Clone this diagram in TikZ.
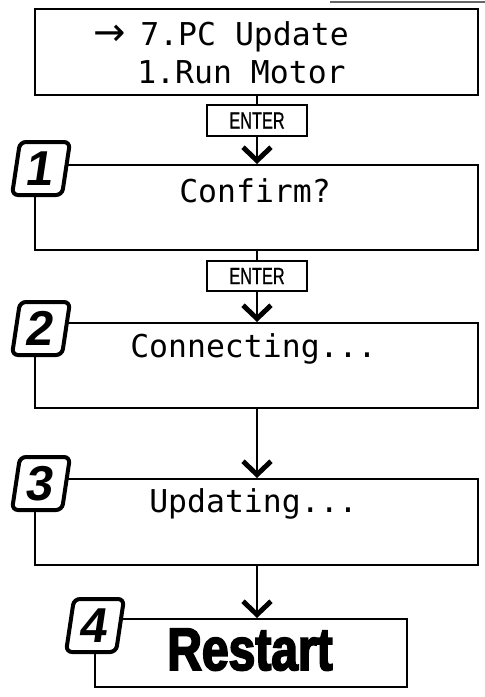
\documentclass[tikz,border=0pt]{standalone}
\usepackage{fontspec}
\usetikzlibrary{arrows.meta, positioning}
\newfontfamily\lcdfont{DejaVu Sans Mono}
\newfontfamily\arrowfont{DejaVu Sans}
\newfontfamily\keyfont{Liberation Sans}[FakeStretch=0.7, FakeBold=0.8]
\newfontfamily\numfont{Liberation Sans}
\newfontfamily\bigfont{Liberation Sans}[UprightFont={* Bold}, FakeStretch=0.8, FakeBold=3]
\tikzset{
  screen/.style={draw=black, line width=1.5pt, inner sep=0pt},
  keybox/.style={draw=black, line width=1.5pt, minimum width=75pt, minimum height=23pt,
                 inner sep=0pt, font=\keyfont\fontsize{17.5}{17.5}\selectfont},
  badge/.style={draw=black, fill=white, line width=3pt, rounded corners=4.5pt,
                xslant=0.15, transform shape, minimum width=37.5pt, minimum height=39.75pt,
                inner sep=0pt, font=\numfont\bfseries\fontsize{36.75}{37}\selectfont},
  lcd/.style={font=\lcdfont\fontsize{23.6}{24}\selectfont, inner sep=0pt, anchor=base west},
  flow/.style={line width=1.5pt},
  go/.style={flow, -{Straight Barb[length=10pt, width=21pt, line width=3.7pt 0]}},
}

\begin{document}
\begin{tikzpicture}[x=0.75pt, y=-0.75pt]
\useasboundingbox (0,0) rectangle (485,697);
\draw[black!60, line width=1.5pt] (330,1.5) -- (485,1.5);

% menu screen
\node[screen, minimum width=332.25pt, minimum height=64.5pt] (menu) at (256.5,52) {};
\node[lcd] (menuA) at (93,45) {{\arrowfont\fontsize{29}{29}\selectfont →}\hspace{11pt}7.PC Update};
\node[lcd] (menuB) at (137,83) {1.Run Motor};

% step screens
\node[screen, minimum width=332.25pt, minimum height=63.75pt] (confirm) at (256.5,207.5) {};
\node[lcd] (confirmtxt) at (179,202) {Confirm?};
\node[screen, minimum width=332.25pt, minimum height=63.75pt] (connect) at (256.5,365.5) {};
\node[lcd] (connecttxt) at (130,357) {Connecting...};
\node[screen, minimum width=332.25pt, minimum height=64.5pt] (update) at (256.5,522) {};
\node[lcd] (updatetxt) at (149,512) {Updating...};
\node[screen, minimum width=234pt, minimum height=51pt] (restart) at (251,653) {};
\node[font=\bigfont\fontsize{45}{45}\selectfont, inner sep=0pt, anchor=base] (restarttxt) at (250,670) {Restart};

% keys
\node[keybox] (enter1) at (257,120.5) {ENTER\hspace{12pt}};
\node[keybox] (enter2) at (257,276) {ENTER\hspace{12pt}};

% flow
\draw[flow] (enter1 |- menu.south) -- (enter1.north);
\draw[go] (enter1.south) -- (enter1 |- confirm.north);
\draw[flow] (enter2 |- confirm.south) -- (enter2.north);
\draw[go] (enter2.south) -- (enter2 |- connect.north);
\draw[go] (enter2 |- connect.south) -- (enter2 |- update.north);
\draw[go] (enter2 |- update.south) -- (enter2 |- restart.north);

% step numbers
\node[badge] (b1) at (41,168.5) {1};
\node[badge] (b2) at (41,328.5) {2};
\node[badge] (b3) at (41,483.5) {3};
\node[badge] (b4) at (95,625.5) {4};
\end{tikzpicture}
\end{document}
